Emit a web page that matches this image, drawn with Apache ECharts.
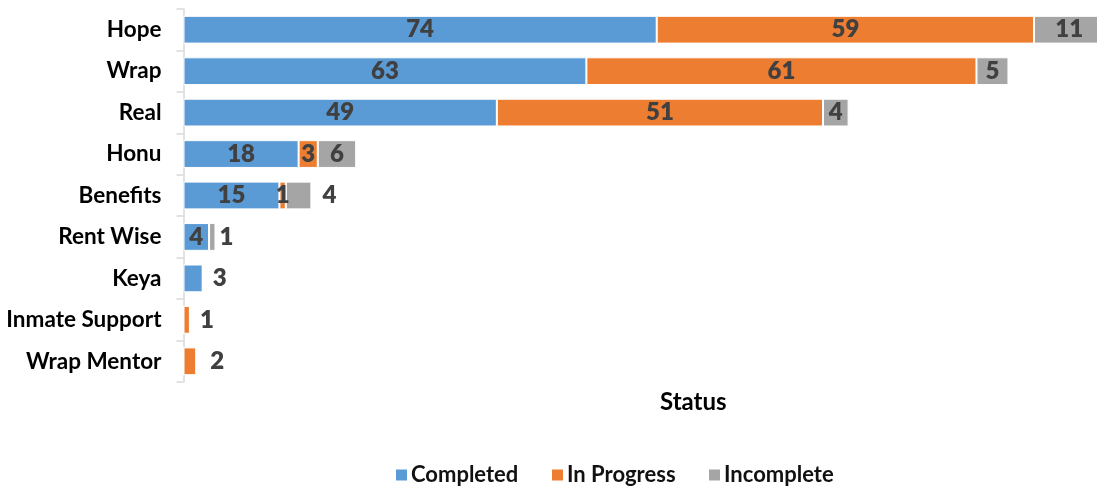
<!DOCTYPE html>
<html>
<head>
<meta charset="utf-8">
<script src="https://cdn.jsdelivr.net/npm/echarts@6/dist/echarts.min.js"></script>
<style>html,body{margin:0;padding:0;background:#fff}#c{width:1097px;height:487px}</style>
</head>
<body>
<div id="c"></div>
<script>
var categories = ['Hope', 'Wrap', 'Real', 'Honu', 'Benefits', 'Rent Wise', 'Keya', 'Inmate Support', 'Wrap Mentor'];
var completed  = [74, 63, 49, 18, 15, 4, 3, 0, 0];
var inProgress = [59, 61, 51, 3, 1, 0, 0, 1, 2];
var incomplete = [11, 5, 4, 6, 4, 1, 0, 0, 0];
var seriesNames = ['Completed', 'In Progress', 'Incomplete'];
var colors = ['#5B9BD5', '#ED7D31', '#A5A5A5'];

// labels placed outside (right of) the bar: [seriesIndex, dataIndex, distance, dy]
var outsideLabels = [
  [2, 4, 11, 0],
  [2, 5, 4, 1],
  [0, 6, 10, 1],
  [1, 7, 10, 2],
  [1, 8, 14, 7]
];

var FONT = 'Lato';
var chart = echarts.init(document.getElementById('c'));
var values = [completed, inProgress, incomplete];

var series = values.map(function (arr, si) {
  return {
    name: seriesNames[si],
    type: 'bar',
    stack: 'total',
    barWidth: '67%',
    itemStyle: { color: colors[si], borderColor: '#fff', borderWidth: 1 },
    label: {
      show: true,
      position: 'inside',
      offset: [0, 1],
      color: '#404040',
      fontFamily: FONT,
      fontWeight: 800,
      fontSize: 24,
      formatter: function (p) { return p.value === 0 ? '' : String(p.value); }
    },
    labelLayout: { hideOverlap: false },
    data: arr.map(function (v, di) {
      var o = { value: v };
      outsideLabels.forEach(function (ol) {
        if (ol[0] === si && ol[1] === di) {
          o.label = { position: 'right', distance: ol[2], offset: [0, ol[3]] };
        }
      });
      return o;
    })
  };
});

var legendLefts = [394, 550, 707];
var legends = seriesNames.map(function (n, i) {
  return {
    data: [n],
    left: legendLefts[i],
    top: 464,
    icon: 'rect',
    itemWidth: 13,
    itemHeight: 13,
    itemGap: 6,
    padding: 0,
    selectedMode: false,
    textStyle: { fontFamily: FONT, fontWeight: 'bold', fontSize: 22, color: '#111', padding: [0, 0, 0, -2] }
  };
});

chart.setOption({
  animation: false,
  color: colors,
  grid: { left: 183.5, top: 9, width: 959.25, height: 373, containLabel: false, outerBoundsMode: 'none' },
  xAxis: {
    type: 'value', min: 0, max: 150,
    show: false
  },
  yAxis: {
    type: 'category',
    inverse: true,
    data: categories,
    axisLine: { show: true, lineStyle: { color: '#D9D9D9', width: 1.5 } },
    axisTick: { show: true, length: 7, lineStyle: { color: '#D9D9D9', width: 1.5 } },
    axisLabel: { margin: 22, color: '#000', fontFamily: FONT, fontWeight: 'bold', fontSize: 22.5 }
  },
  legend: legends,
  graphic: [{
    type: 'text',
    left: 695 - 35,
    top: 390,
    style: { text: 'Status', fontFamily: FONT, fontWeight: 'bold', fontSize: 24, fill: '#000' }
  }],
  series: series
});
</script>
</body>
</html>
